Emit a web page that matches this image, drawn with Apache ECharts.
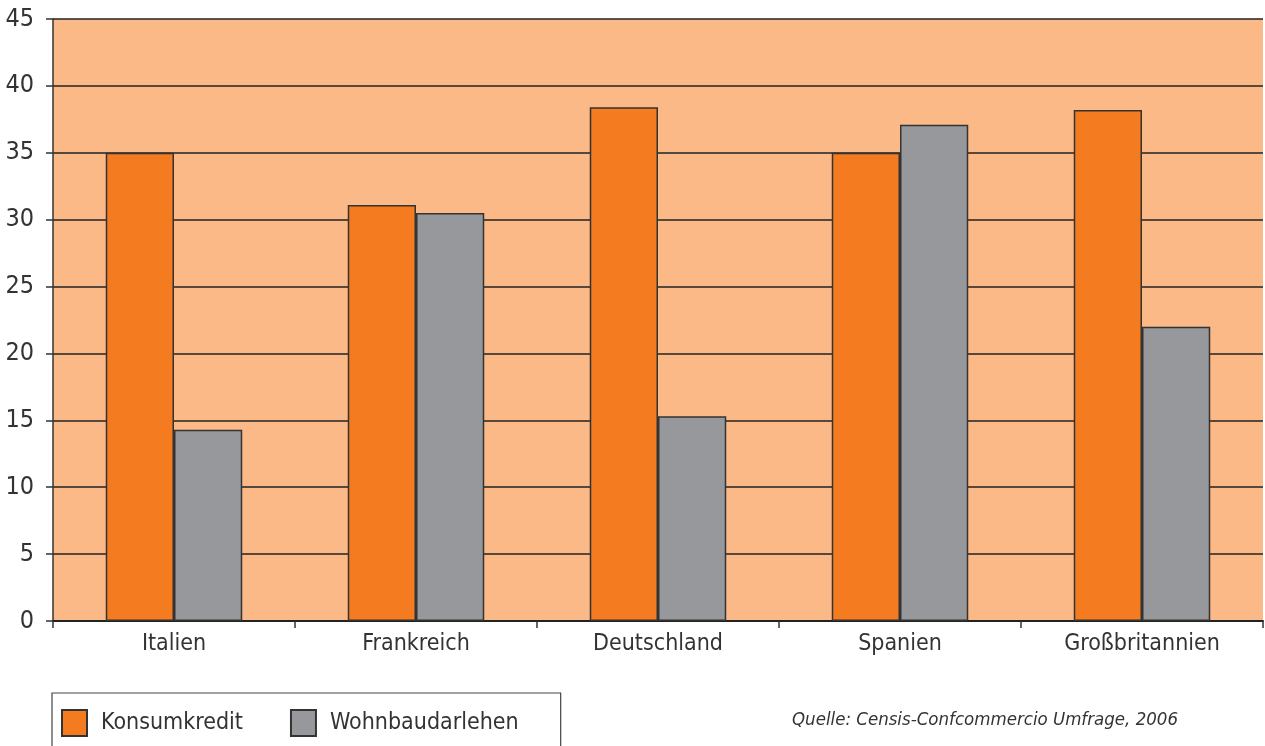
<!DOCTYPE html>
<html>
<head>
<meta charset="utf-8">
<script src="https://cdn.jsdelivr.net/npm/echarts@6/dist/echarts.min.js"></script>
<style>
html,body{margin:0;padding:0;background:#fff;}
#chart{width:1265px;height:746px;}
</style>
</head>
<body>
<div id="chart"></div>
<script>
const categories = ['Italien', 'Frankreich', 'Deutschland', 'Spanien', 'Großbritannien'];
const konsumkredit = [35.0, 31.1, 38.4, 35.0, 38.2];
const wohnbaudarlehen = [14.3, 30.5, 15.3, 37.1, 22.0];
const seriesNames = ['Konsumkredit', 'Wohnbaudarlehen'];
const sourceText = 'Quelle: Censis-Confcommercio Umfrage, 2006';

const FONT = '"DejaVu Sans Condensed", "DejaVu Sans", sans-serif';
const chart = echarts.init(document.getElementById('chart'), null, {renderer: 'canvas'});
chart.setOption({
  animation: false,
  backgroundColor: '#ffffff',
  textStyle: {fontFamily: FONT},
  grid: {
    left: 53, right: 2, top: 19, bottom: 125,
    show: true, backgroundColor: '#FAB987', borderWidth: 0
  },
  legend: {
    left: 52, top: 693,
    orient: 'horizontal',
    icon: 'rect',
    itemWidth: 25, itemHeight: 26,
    itemGap: 47,
    padding: [16, 42, 16, 9],
    borderColor: '#444', borderWidth: 1.2,
    textStyle: {fontSize: 23, color: '#333', fontFamily: FONT, padding: [0, 0, 0, 9]},
    data: seriesNames
  },
  graphic: [{
    type: 'text',
    left: 792, top: 711,
    style: {text: sourceText, font: 'italic 18.5px ' + FONT, fill: '#333'}
  }],
  xAxis: {
    type: 'category',
    data: categories,
    axisLine: {show: true, lineStyle: {color: '#222', width: 2}},
    axisTick: {show: true, length: 7, lineStyle: {color: '#333', width: 1.5}},
    axisLabel: {fontSize: 23, color: '#333', margin: 12, interval: 0, fontFamily: FONT}
  },
  yAxis: {
    type: 'value',
    min: 0, max: 45, interval: 5,
    axisLine: {show: true, lineStyle: {color: '#333', width: 1.5}},
    axisTick: {show: true, length: 7, lineStyle: {color: '#333', width: 1.5}},
    axisLabel: {fontSize: 25, color: '#333', margin: 19, fontFamily: FONT},
    splitLine: {show: true, lineStyle: {color: '#222', width: 1.5}}
  },
  series: [
    {
      name: seriesNames[0], type: 'bar', data: konsumkredit,
      barWidth: '28.2%', barGap: '0%',
      itemStyle: {color: '#F47B20', borderColor: '#333', borderWidth: 1.5}
    },
    {
      name: seriesNames[1], type: 'bar', data: wohnbaudarlehen,
      barWidth: '28.2%', barGap: '0%',
      itemStyle: {color: '#97989B', borderColor: '#333', borderWidth: 1.5}
    }
  ]
});
</script>
</body>
</html>
